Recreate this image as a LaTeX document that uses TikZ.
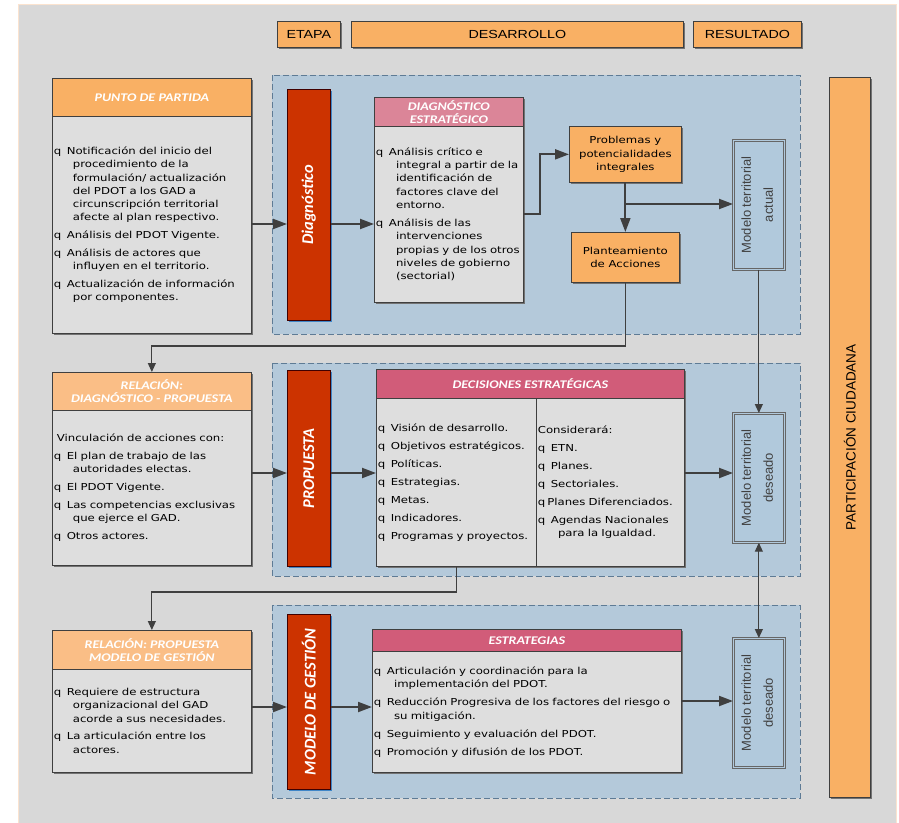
\documentclass[tikz,border=0pt]{standalone}
\usepackage{fontspec}
\usepackage{graphicx}
\usetikzlibrary{arrows.meta,shadows}

\newfontfamily\bodyf[FakeStretch=1.22]{DejaVu Sans}
\newfontfamily\headf[FakeStretch=1.2]{Carlito}
\newfontfamily\stagef{Carlito}
\newfontfamily\etapaf[FakeStretch=1.22]{Liberation Sans}
\newfontfamily\modelf{Liberation Sans}

\newcommand{\bul}{q\hspace{5.5pt}}
\newcommand{\cnt}[1][19pt]{\hspace*{#1}}

\definecolor{bgGray}{HTML}{D8D8D8}
\definecolor{bgLine}{HTML}{FBE3CF}
\definecolor{panelBlue}{HTML}{B4C9DA}
\definecolor{panelLine}{HTML}{5E7B95}
\definecolor{boxGray}{HTML}{DEDEDE}
\definecolor{lineDark}{HTML}{3F3F3F}
\definecolor{orangeHead}{HTML}{F9B064}
\definecolor{orangeLight}{HTML}{FABE86}
\definecolor{pinkLight}{HTML}{DB8598}
\definecolor{pinkDark}{HTML}{D15C79}
\definecolor{redStage}{HTML}{CC3300}
\definecolor{shadowBlue}{HTML}{3F86C8}
\definecolor{modelBlue}{HTML}{B1C9DC}

\tikzset{
  box/.style={draw=lineDark, line width=0.7pt, anchor=north west, inner sep=0pt},
  shd/.style={drop shadow={shadow xshift=2pt, shadow yshift=-2pt, fill=#1, opacity=1}},
  shd/.default=black!55,
  headbox/.style={box, shd, text=white, align=center, font=\headf\bfseries\itshape\fontsize{11.7}{13}\selectfont},
  bodybox/.style={box, shd, fill=boxGray, align=left, inner xsep=1.5pt, font=\bodyf\fontsize{9.6}{13.3}\selectfont},
  orangebox/.style={box, shd, fill=orangeHead, align=center, font=\bodyf\fontsize{9.6}{13.5}\selectfont},
  etapabox/.style={box, shd, fill=orangeHead, minimum height=26pt, font=\etapaf\fontsize{11.7}{13}\selectfont},
  stagebox/.style={box, shd=shadowBlue, fill=redStage, draw=red!25!black, text=white, minimum width=43pt, font=\stagef\bfseries\itshape\fontsize{16.4}{18}\selectfont},
  modelbox/.style={box, shd=black!35, fill=modelBlue, draw=black!60, double=modelBlue, double distance=1.3pt, minimum width=51pt, minimum height=129pt, text=black!75, font=\modelf\fontsize{13}{15}\selectfont},
  panel/.style={draw=panelLine, fill=panelBlue, dash pattern=on 6pt off 3pt, line width=0.8pt},
  arr/.style={draw=lineDark, line width=2pt, -{Triangle[length=14pt,width=10pt]}},
  thinarr/.style={draw=lineDark, line width=1.1pt, -{Triangle[length=9pt,width=8pt]}}
}

\begin{document}
\begin{tikzpicture}[x=1pt, y=-1pt]
\useasboundingbox (0,0) rectangle (899,822);
\draw[bgLine, fill=bgGray, line width=1pt] (18,4) rectangle (896,825);

\node[etapabox, minimum width=63pt] (etapa) at (277,21) {ETAPA};
\node[etapabox, minimum width=332pt] (desarrollo) at (351,21) {DESARROLLO};
\node[etapabox, minimum width=108pt] (resultado) at (693,21) {RESULTADO};

\draw[panel] (272,75) rectangle (800,334);
\draw[panel] (272,363) rectangle (800,576);
\draw[panel] (272,605) rectangle (800,798);

\node[box, shd, fill=orangeHead, minimum width=41pt, minimum height=720pt] (particip) at (829,77)
  {\rotatebox{90}{\modelf\fontsize{13.5}{15}\selectfont PARTICIPACIÓN CIUDADANA}};

% punto de partida
\node[headbox, fill=orangeHead, minimum width=199pt, minimum height=38pt] (puntoH) at (52,78) {PUNTO DE PARTIDA};
\node[bodybox, text width=196pt, minimum height=217pt] (puntoB) at (52,116) {%
\bul Notificación del inicio del\\
\cnt procedimiento de la\\
\cnt formulación/ actualización\\
\cnt del PDOT a los GAD a\\
\cnt circunscripción territorial\\
\cnt afecte al plan respectivo.\\[4.5pt]
\bul Análisis del PDOT Vigente.\\[4.5pt]
\bul Análisis de actores que\\
\cnt influyen en el territorio.\\[4.5pt]
\bul Actualización de información\\
\cnt por componentes.};

\node[stagebox, minimum height=231pt] (diag) at (287,89) {\rotatebox{90}{Diagnóstico}};

\node[headbox, fill=pinkLight, minimum width=149pt, minimum height=29pt] (dgH) at (374,97) {DIAGNÓSTICO\\ESTRATÉGICO};
\node[bodybox, text width=146pt, minimum height=176pt] (dgB) at (374,126) {%
\bul Análisis crítico e\\
\cnt[17pt] integral a partir de la\\
\cnt[17pt] identificación de\\
\cnt[17pt] factores clave del\\
\cnt[17pt] entorno.\\[4.7pt]
\bul Análisis de las\\
\cnt[17pt] intervenciones\\
\cnt[17pt] propias y de los otros\\
\cnt[17pt] niveles de gobierno\\
\cnt[17pt] (sectorial)};

\node[orangebox, minimum width=112pt, minimum height=56pt] (prob) at (569,126) {Problemas y\\potencialidades\\integrales};
\node[orangebox, minimum width=108pt, minimum height=50pt] (plan) at (571,232) {Planteamiento\\de Acciones};

\node[modelbox] (mod1) at (733,140) {\rotatebox{90}{\begin{tabular}{@{}c@{}}Modelo territorial\\[7pt]actual\end{tabular}}};

% propuesta
\node[headbox, fill=orangeLight, minimum width=199pt, minimum height=38pt] (rel1H) at (52,372) {RELACIÓN:\\DIAGNÓSTICO - PROPUESTA};
\node[bodybox, text width=196pt, minimum height=155pt] (rel1B) at (52,410) {%
\hspace*{3pt}Vinculación de acciones con:\\[4.5pt]
\bul El plan de trabajo de las\\
\cnt autoridades electas.\\[4.5pt]
\bul El PDOT Vigente.\\[4.5pt]
\bul Las competencias exclusivas\\
\cnt que ejerce el GAD.\\[4.5pt]
\bul Otros actores.};

\node[stagebox, minimum height=196pt] (prop) at (287,370) {\rotatebox{90}{PROPUESTA}};

\node[headbox, fill=pinkDark, minimum width=308pt, minimum height=29pt] (decH) at (376,369) {DECISIONES ESTRATÉGICAS};
\node[bodybox, text width=157pt, minimum height=168pt] (decL) at (376,398) {%
\bul Visión de desarrollo.\\[4.7pt]
\bul Objetivos estratégicos.\\[4.7pt]
\bul Políticas.\\[4.7pt]
\bul Estrategias.\\[4.7pt]
\bul Metas.\\[4.7pt]
\bul Indicadores.\\[4.7pt]
\bul Programas y proyectos.};
\node[bodybox, text width=145pt, minimum height=168pt] (decR) at (536,398) {%
Considerará:\\[4.7pt]
\bul ETN.\\[4.7pt]
\bul Planes.\\[4.7pt]
\bul Sectoriales.\\[4.7pt]
q\hspace{2pt}Planes Diferenciados.\\[4.7pt]
\bul Agendas Nacionales\\
\cnt[17pt] para la Igualdad.};

\node[modelbox] (mod2) at (733,413) {\rotatebox{90}{\begin{tabular}{@{}c@{}}Modelo territorial\\[7pt]deseado\end{tabular}}};

% modelo de gestion
\node[headbox, fill=orangeLight, minimum width=199pt, minimum height=39pt] (rel2H) at (52,630) {RELACIÓN: PROPUESTA\\MODELO DE GESTIÓN};
\node[bodybox, text width=196pt, minimum height=103pt] (rel2B) at (52,669) {%
\bul Requiere de estructura\\
\cnt organizacional del GAD\\
\cnt acorde a sus necesidades.\\[4.5pt]
\bul La articulación entre los\\
\cnt actores.};

\node[stagebox, minimum height=175pt] (gest) at (287,614) {\rotatebox{90}{MODELO DE GESTIÓN}};

\node[headbox, fill=pinkDark, minimum width=309pt, minimum height=22pt] (estH) at (372,629) {ESTRATEGIAS};
\node[bodybox, text width=306pt, minimum height=121pt] (estB) at (372,651) {%
\bul Articulación y coordinación para la\\
\cnt[17pt] implementación del PDOT.\\[4.7pt]
\bul Reducción Progresiva de los factores del riesgo o\\
\cnt[17pt] su mitigación.\\[4.7pt]
\bul Seguimiento y evaluación del PDOT.\\[4.7pt]
\bul Promoción y difusión de los PDOT.};

\node[modelbox] (mod3) at (733,638) {\rotatebox{90}{\begin{tabular}{@{}c@{}}Modelo territorial\\[7pt]deseado\end{tabular}}};

% rows for connectors
\coordinate (rowDiag) at (0,224);
\coordinate (rowUp) at (0,214);
\coordinate (rowMod1) at (0,204);
\coordinate (rowBack1) at (0,346);
\coordinate (rowProp) at (0,473);
\coordinate (rowBack2) at (0,592);
\coordinate (rowGest) at (0,707);
\coordinate (rowMod3) at (0,701);

\draw[arr] (puntoB.east |- rowDiag) -- (diag.west |- rowDiag);
\draw[arr] (diag.east |- rowDiag) -- (dgB.west |- rowDiag);
\draw[arr] (dgB.east |- rowUp) -- ++(16,0) |- (prob.west);
\draw[arr] (prob.south) -- (plan.north);
\draw[arr] (prob.south |- rowMod1) -- (mod1.west |- rowMod1);
\draw[thinarr] (plan.south) -- (plan.south |- rowBack1) -| (rel1H.north);
\draw[thinarr] (mod1.south) -- (mod2.north);

\draw[arr] (rel1B.east |- rowProp) -- (prop.west |- rowProp);
\draw[arr] (prop.east |- rowProp) -- (decL.west |- rowProp);
\draw[arr] (decR.east |- rowProp) -- (mod2.west |- rowProp);
\draw[thinarr] (decL.south) -- (decL.south |- rowBack2) -| (rel2H.north);
\draw[thinarr, {Triangle[length=9pt,width=8pt]}-{Triangle[length=9pt,width=8pt]}] (mod2.south) -- (mod3.north);

\draw[arr] (rel2B.east |- rowGest) -- (gest.west |- rowGest);
\draw[arr] (gest.east |- rowGest) -- (estB.west |- rowGest);
\draw[arr] (estB.east |- rowMod3) -- (mod3.west |- rowMod3);
\end{tikzpicture}
\end{document}
